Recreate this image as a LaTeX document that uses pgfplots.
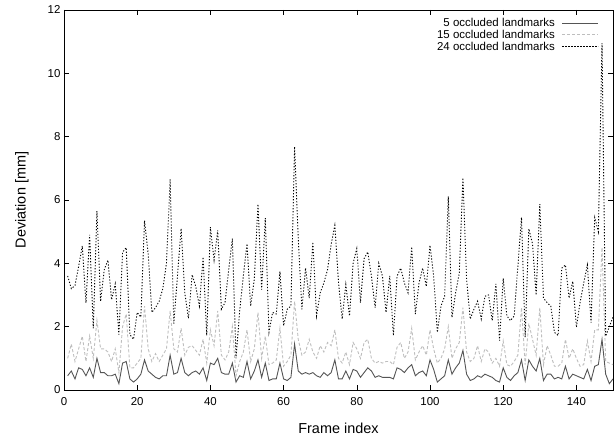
\documentclass[border=0pt]{standalone}
\usepackage{fontspec}
\setmainfont{Liberation Sans}
\usepackage{pgfplots}
\pgfplotsset{compat=1.18}
\usepackage{pgfplotstable}

\definecolor{fivecol}{RGB}{85,85,85}
\definecolor{fifteencol}{RGB}{190,190,190}

% frame, 5 / 15 / 24 occluded landmarks
\pgfplotstableread{
f a b c
1 0.45 1.0 3.6
2 0.6 1.45 3.2
3 0.35 0.9 3.3
4 0.7 1.3 3.9
5 0.65 1.7 4.55
6 0.45 0.9 2.75
7 0.7 1.7 4.9
8 0.4 1.0 1.95
9 1.0 2.2 5.65
10 0.55 1.3 2.8
11 0.55 1.3 3.8
12 0.45 1.2 4.1
13 0.45 0.9 2.85
14 0.5 1.3 3.35
15 0.2 0.55 1.75
16 0.85 2.0 4.35
17 0.9 2.4 4.5
18 0.35 0.7 1.75
19 0.25 0.7 1.6
20 0.35 0.85 2.45
21 0.5 1.0 2.3
22 0.95 2.65 5.35
23 0.6 1.3 4.3
24 0.5 0.9 2.45
25 0.4 1.15 2.6
26 0.35 0.9 2.8
27 0.45 1.1 3.2
28 0.45 1.3 4.0
29 1.1 2.5 6.65
30 0.5 1.3 2.1
31 0.55 1.2 3.6
32 1.0 1.95 5.1
33 0.55 1.1 3.07
34 0.45 1.35 2.26
35 0.55 1.4 3.64
36 0.6 1.25 3.27
37 0.5 1.1 2.65
38 0.7 1.6 4.2
39 0.3 0.85 1.72
40 0.85 1.9 5.14
41 0.8 1.4 4.1
42 1.0 2.5 5.04
43 0.55 1.1 2.55
44 0.5 0.95 2.76
45 0.5 1.2 3.8
46 0.85 2.0 4.78
47 0.25 0.45 1.0
48 0.45 0.9 2.5
49 0.4 1.2 3.6
50 0.9 1.9 4.62
51 0.35 0.9 2.65
52 0.6 1.3 3.5
53 0.95 2.45 5.87
54 0.4 1.0 3.17
55 0.85 1.7 5.43
56 0.3 0.8 1.82
57 0.35 0.85 2.45
58 0.35 0.95 2.4
59 0.85 1.95 3.74
60 0.35 0.75 2.03
61 0.3 0.9 2.55
62 0.4 1.1 2.65
63 1.45 2.8 7.68
64 0.6 1.6 4.8
65 0.5 1.1 2.55
66 0.55 1.2 3.85
67 0.5 1.6 2.9
68 0.55 1.2 4.67
69 0.45 1.0 2.34
70 0.4 1.4 3.07
71 0.55 1.2 3.38
72 0.45 1.5 3.8
73 0.55 1.4 4.6
74 0.95 1.9 5.2
75 0.35 1.0 3.4
76 0.35 0.85 2.24
77 0.6 1.2 3.33
78 0.35 0.8 2.34
79 0.65 1.5 4.0
80 0.6 1.3 4.47
81 0.4 1.0 2.76
82 0.55 1.5 4.15
83 0.7 1.6 4.36
84 0.6 1.0 3.59
85 0.4 0.85 2.6
86 0.45 0.9 4.0
87 0.4 0.85 3.6
88 0.4 0.9 2.45
89 0.4 0.9 3.6
90 0.35 0.8 1.72
91 0.7 1.35 3.6
92 0.65 1.5 3.85
93 0.55 1.0 3.38
94 0.7 1.2 3.07
95 0.8 1.95 4.52
96 0.45 0.95 2.4
97 0.55 1.2 3.38
98 0.6 1.4 3.85
99 0.45 1.1 3.27
100 0.95 1.9 4.57
101 0.65 1.3 3.6
102 0.25 0.85 1.82
103 0.35 1.0 2.65
104 0.45 1.3 2.96
105 0.95 2.0 6.12
106 0.5 1.0 2.29
107 0.7 1.3 3.07
108 0.85 1.5 3.69
109 1.25 2.6 6.7
110 0.5 1.2 3.48
111 0.3 0.9 2.24
112 0.35 1.0 2.55
113 0.45 1.4 2.8
114 0.4 0.9 2.24
115 0.5 1.3 2.96
116 0.45 1.2 3.0
117 0.4 0.85 2.19
118 0.3 1.0 3.35
119 0.25 0.75 1.56
120 0.7 1.55 3.53
121 0.4 0.8 2.34
122 0.3 0.75 2.19
123 0.45 0.9 2.34
124 0.55 1.1 3.9
125 0.95 2.6 5.45
126 0.3 0.8 1.67
127 0.95 2.1 5.09
128 0.75 1.6 4.62
129 0.6 1.1 3.0
130 1.0 2.6 5.87
131 0.3 0.8 2.9
132 0.5 1.4 2.76
133 0.5 1.1 2.65
134 0.35 0.75 1.82
135 0.4 0.75 1.72
136 0.35 0.85 3.85
137 0.75 1.6 3.95
138 0.35 1.0 2.9
139 0.5 1.3 3.43
140 0.45 1.0 1.98
141 0.4 0.75 2.76
142 0.35 0.8 3.38
143 0.65 1.55 3.95
144 0.3 0.9 2.13
145 0.75 1.9 5.45
146 0.8 1.9 5.0
147 1.6 4.5 10.95
148 0.5 0.9 1.7
149 0.2 0.85 2.0
150 0.35 0.8 2.3
}\devdata

\begin{document}
\begin{tikzpicture}
\useasboundingbox (-64bp,-48bp) rectangle (551bp,390bp);
\begin{axis}[
    scale only axis,
    width=549bp, height=380bp,
    xmin=0, xmax=150, ymin=0, ymax=12,
    xtick={0,20,...,140}, ytick={0,2,...,12},
    tick align=inside, major tick length=5bp,
    axis line style={line width=0.8bp},
    tick style={line width=0.6bp, black},
    tick label style={font=\fontsize{11.5}{13}\selectfont},
    xticklabel style={yshift=-4bp},
    /pgf/number format/assume math mode=true,
    xlabel={Frame index}, ylabel={Deviation [mm]},
    every axis x label/.style={at={(axis description cs:0.5,0)}, yshift=-38bp,
        anchor=center, font=\fontsize{14.5}{17}\selectfont},
    every axis y label/.style={at={(axis description cs:0,0.5)}, xshift=-42bp,
        rotate=90, anchor=center, font=\fontsize{14.5}{17}\selectfont},
    legend cell align=right,
    legend plot pos=right,
    legend style={at={(axis description cs:1,1)}, anchor=north east,
        xshift=-14bp, yshift=-6bp, draw=none, fill=none, inner sep=0pt,
        font=\fontsize{11.5}{12}\selectfont, row sep=-2bp, column sep=5bp},
    legend image code/.code={\draw[#1] (0bp,0bp) -- (36bp,0bp);},
]
\addplot[fivecol, line width=0.9bp] table[x=f, y=a] {\devdata};
\addlegendentry{5 occluded landmarks}
\addplot[fifteencol, line width=0.9bp, dash pattern=on 3bp off 2bp] table[x=f, y=b] {\devdata};
\addlegendentry{15 occluded landmarks}
\addplot[black, line width=0.9bp, dash pattern=on 1.2bp off 1.8bp] table[x=f, y=c] {\devdata};
\addlegendentry{24 occluded landmarks}
\end{axis}
\end{tikzpicture}
\end{document}
